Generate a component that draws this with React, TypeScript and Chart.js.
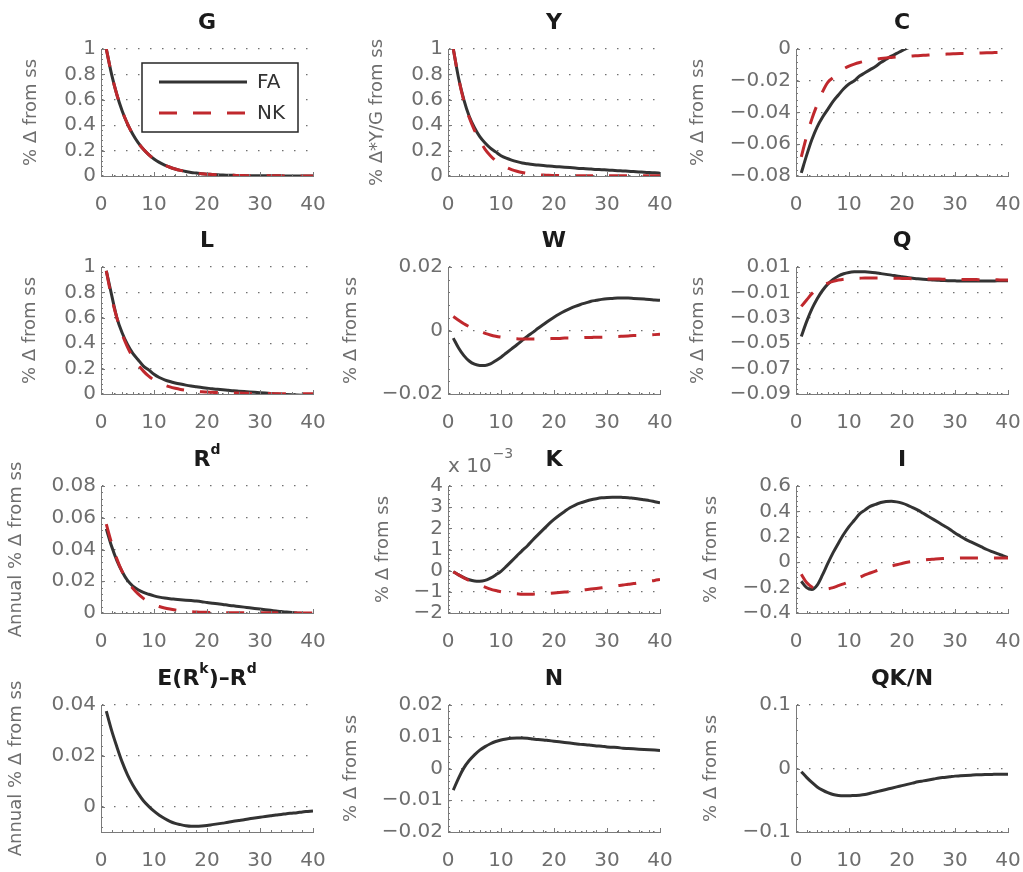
import React, { useEffect, useRef } from 'react';
import { Chart, registerables } from 'chart.js';

Chart.register(...registerables);

// ---------------- DATA ----------------
const PERIODS = [1, 2, 3, 4, 5, 6, 7, 8, 9, 10, 11, 12, 13, 14, 15, 16, 17, 18, 19, 20, 21, 22, 23, 24, 25, 26, 27, 28, 29, 30, 31, 32, 33, 34, 35, 36, 37, 38, 39, 40];
const X_TICKS = [0, 10, 20, 30, 40];

const G_FA = [1.0, 0.8, 0.64, 0.512, 0.41, 0.328, 0.262, 0.21, 0.168, 0.134, 0.107, 0.086, 0.069, 0.055, 0.044, 0.035, 0.028, 0.023, 0.018, 0.014, 0.012, 0.009, 0.007, 0.006, 0.005, 0.004, 0.003, 0.002, 0.002, 0.002, 0.001, 0.001, 0.001, 0.001, 0.0, 0.0, 0.0, 0.0, 0.0, 0.0];
const G_NK = [1.0, 0.8, 0.64, 0.512, 0.41, 0.328, 0.262, 0.21, 0.168, 0.134, 0.107, 0.086, 0.069, 0.055, 0.044, 0.035, 0.028, 0.023, 0.018, 0.014, 0.012, 0.009, 0.007, 0.006, 0.005, 0.004, 0.003, 0.002, 0.002, 0.002, 0.001, 0.001, 0.001, 0.001, 0.0, 0.0, 0.0, 0.0, 0.0, 0.0];

const Y_FA = [1.0, 0.77, 0.6, 0.47, 0.38, 0.31, 0.26, 0.22, 0.19, 0.16, 0.14, 0.125, 0.113, 0.103, 0.096, 0.09, 0.086, 0.082, 0.078, 0.075, 0.072, 0.069, 0.066, 0.063, 0.06, 0.058, 0.055, 0.052, 0.05, 0.047, 0.045, 0.042, 0.04, 0.037, 0.035, 0.032, 0.03, 0.027, 0.025, 0.022];
const Y_NK = [1.0, 0.77, 0.59, 0.46, 0.36, 0.28, 0.21, 0.16, 0.12, 0.09, 0.068, 0.05, 0.037, 0.027, 0.02, 0.014, 0.01, 0.007, 0.005, 0.004, 0.003, 0.002, 0.002, 0.001, 0.001, 0.001, 0.001, 0.001, 0.001, 0.001, 0.001, 0.001, 0.001, 0.001, 0.001, 0.001, 0.001, 0.001, 0.001, 0.001];

const C_FA = [-0.078, -0.067, -0.057, -0.049, -0.043, -0.038, -0.033, -0.029, -0.025, -0.022, -0.02, -0.017, -0.015, -0.013, -0.011, -0.0085, -0.0065, -0.0045, -0.0028, -0.001, 0.0005, 0.0018, 0.003, 0.004, 0.0048, 0.0055, 0.006, 0.0064, 0.0067, 0.0069, 0.007, 0.0071, 0.0071, 0.0071, 0.007, 0.0069, 0.0068, 0.0067, 0.0066, 0.0065];
const C_NK = [-0.068, -0.055, -0.044, -0.035, -0.027, -0.021, -0.018, -0.015, -0.0125, -0.0108, -0.0095, -0.0085, -0.0077, -0.007, -0.0065, -0.006, -0.0056, -0.0053, -0.005, -0.0048, -0.0046, -0.0044, -0.0042, -0.004, -0.0038, -0.0036, -0.0034, -0.0033, -0.0031, -0.003, -0.0029, -0.0028, -0.0027, -0.0026, -0.0025, -0.0024, -0.0023, -0.0022, -0.0021, -0.002];

const L_FA = [0.97, 0.78, 0.6, 0.48, 0.39, 0.32, 0.27, 0.22, 0.19, 0.155, 0.13, 0.112, 0.098, 0.087, 0.078, 0.07, 0.063, 0.057, 0.051, 0.046, 0.041, 0.037, 0.033, 0.029, 0.025, 0.022, 0.019, 0.016, 0.013, 0.01, 0.007, 0.004, 0.001, -0.002, -0.004, -0.006, -0.008, -0.01, -0.012, -0.013];
const L_NK = [0.97, 0.76, 0.6, 0.47, 0.37, 0.29, 0.23, 0.18, 0.14, 0.11, 0.088, 0.07, 0.056, 0.045, 0.036, 0.029, 0.024, 0.02, 0.017, 0.015, 0.013, 0.011, 0.01, 0.009, 0.008, 0.007, 0.006, 0.005, 0.004, 0.004, 0.003, 0.003, 0.002, 0.002, 0.002, 0.001, 0.001, 0.001, 0.001, 0.001];

const W_FA = [-0.0024, -0.0055, -0.0079, -0.0096, -0.0106, -0.011, -0.011, -0.0105, -0.0095, -0.0084, -0.0071, -0.0058, -0.0045, -0.0031, -0.0018, -0.0006, 0.0007, 0.0019, 0.0031, 0.0042, 0.0052, 0.0061, 0.0069, 0.0076, 0.0082, 0.0087, 0.0092, 0.0095, 0.0098, 0.01, 0.0101, 0.0102, 0.0102, 0.0102, 0.0101, 0.01, 0.0099, 0.0098, 0.0096, 0.0095];
const W_NK = [0.0044, 0.0032, 0.0021, 0.0012, 0.0004, -0.0003, -0.0009, -0.0014, -0.0018, -0.0021, -0.0023, -0.0025, -0.0026, -0.0027, -0.0027, -0.0027, -0.0027, -0.0026, -0.0026, -0.0025, -0.0025, -0.0024, -0.0024, -0.0023, -0.0023, -0.0022, -0.0022, -0.0021, -0.0021, -0.002, -0.0019, -0.0019, -0.0018, -0.0017, -0.0016, -0.0016, -0.0015, -0.0014, -0.0013, -0.0012];

const Q_FA = [-0.0447, -0.033, -0.023, -0.015, -0.0085, -0.0035, 0.0002, 0.0029, 0.0047, 0.0057, 0.0062, 0.0063, 0.0062, 0.0059, 0.0054, 0.0048, 0.0042, 0.0036, 0.0029, 0.0023, 0.0017, 0.0012, 0.0007, 0.0003, 0.0, -0.0003, -0.0005, -0.0007, -0.0008, -0.0009, -0.001, -0.001, -0.001, -0.001, -0.001, -0.001, -0.001, -0.0009, -0.0009, -0.0009];
const Q_NK = [-0.021, -0.016, -0.011, -0.0075, -0.0048, -0.0028, -0.0013, -0.0003, 0.0004, 0.0008, 0.0011, 0.0012, 0.0013, 0.0013, 0.0013, 0.0013, 0.0012, 0.0012, 0.0011, 0.001, 0.0009, 0.0008, 0.0008, 0.0007, 0.0006, 0.0005, 0.0005, 0.0004, 0.0003, 0.0003, 0.0002, 0.0002, 0.0001, 0.0001, 0.0, 0.0, -0.0001, -0.0001, -0.0002, -0.0002];

const RD_FA = [0.053, 0.042, 0.033, 0.026, 0.0205, 0.017, 0.0147, 0.013, 0.0118, 0.0108, 0.01, 0.0094, 0.009, 0.0087, 0.0084, 0.0081, 0.0078, 0.0075, 0.0071, 0.0066, 0.0062, 0.0058, 0.0054, 0.0049, 0.0045, 0.0041, 0.0037, 0.0033, 0.0029, 0.0025, 0.0021, 0.0017, 0.0013, 0.0009, 0.0006, 0.0003, 0.0, -0.0003, -0.0006, -0.0009];
const RD_NK = [0.056, 0.044, 0.034, 0.026, 0.02, 0.0155, 0.012, 0.0092, 0.007, 0.0053, 0.0041, 0.0032, 0.0025, 0.0019, 0.0014, 0.0011, 0.0008, 0.0006, 0.0005, 0.0004, 0.0003, 0.0003, 0.0002, 0.0002, 0.0002, 0.0001, 0.0001, 0.0001, 0.0001, 0.0001, 0.0001, 0.0001, 0.0001, 0.0, 0.0, 0.0, 0.0, 0.0, 0.0, 0.0];

// K values are in units of 10^-3
const K_FA = [-0.05, -0.2, -0.33, -0.43, -0.49, -0.5, -0.46, -0.35, -0.2, -0.03, 0.2, 0.45, 0.7, 0.95, 1.18, 1.45, 1.7, 1.95, 2.2, 2.42, 2.62, 2.8, 2.97, 3.1, 3.2, 3.28, 3.35, 3.4, 3.44, 3.46, 3.47, 3.47, 3.46, 3.45, 3.42, 3.39, 3.35, 3.31, 3.26, 3.21];
const K_NK = [-0.05, -0.2, -0.34, -0.47, -0.58, -0.68, -0.78, -0.87, -0.94, -1.0, -1.04, -1.07, -1.09, -1.11, -1.11, -1.11, -1.1, -1.09, -1.07, -1.05, -1.03, -1.01, -0.99, -0.96, -0.93, -0.9, -0.87, -0.84, -0.81, -0.78, -0.74, -0.71, -0.68, -0.64, -0.61, -0.57, -0.53, -0.49, -0.46, -0.42];

const I_FA = [-0.15, -0.2, -0.215, -0.18, -0.1, -0.01, 0.075, 0.15, 0.22, 0.28, 0.33, 0.38, 0.41, 0.44, 0.455, 0.47, 0.478, 0.48, 0.475, 0.465, 0.45, 0.43, 0.41, 0.385, 0.36, 0.335, 0.31, 0.285, 0.26, 0.23, 0.205, 0.18, 0.16, 0.14, 0.12, 0.1, 0.083, 0.067, 0.052, 0.037];
const I_NK = [-0.095, -0.16, -0.195, -0.21, -0.215, -0.21, -0.2, -0.185, -0.17, -0.155, -0.14, -0.12, -0.1, -0.085, -0.07, -0.055, -0.04, -0.03, -0.02, -0.01, 0.0, 0.006, 0.012, 0.017, 0.021, 0.024, 0.027, 0.029, 0.031, 0.032, 0.033, 0.034, 0.034, 0.034, 0.034, 0.034, 0.034, 0.034, 0.034, 0.034];

const E_FA = [0.0376, 0.03, 0.0235, 0.0175, 0.0125, 0.0085, 0.0052, 0.0023, 0.0001, -0.0018, -0.0034, -0.0047, -0.0058, -0.0066, -0.0071, -0.0075, -0.0077, -0.0077, -0.0076, -0.0074, -0.0071, -0.0068, -0.0065, -0.0062, -0.0058, -0.0055, -0.0052, -0.0048, -0.0045, -0.0042, -0.0039, -0.0036, -0.0033, -0.0031, -0.0028, -0.0026, -0.0024, -0.0021, -0.0019, -0.0017];

const N_FA = [-0.0068, -0.003, 0.0002, 0.0025, 0.0043, 0.0058, 0.0069, 0.0078, 0.0085, 0.009, 0.0093, 0.0095, 0.0096, 0.0096, 0.0095, 0.0093, 0.0091, 0.009, 0.0088, 0.0086, 0.0084, 0.0082, 0.008, 0.0078, 0.0076, 0.0075, 0.0073, 0.0071, 0.007, 0.0068, 0.0067, 0.0066, 0.0064, 0.0063, 0.0062, 0.0061, 0.006, 0.0059, 0.0058, 0.0057];

const QKN_FA = [-0.005, -0.014, -0.022, -0.029, -0.034, -0.038, -0.041, -0.0425, -0.043, -0.043, -0.0425, -0.042, -0.041, -0.039, -0.037, -0.035, -0.033, -0.031, -0.029, -0.027, -0.025, -0.023, -0.021, -0.0195, -0.018, -0.0165, -0.015, -0.014, -0.013, -0.012, -0.0115, -0.011, -0.0105, -0.01, -0.0097, -0.0095, -0.0093, -0.0091, -0.009, -0.0089];

const SERIES_NAMES = ['FA', 'NK'];

// ---------------- STYLE ----------------
const FONT = '"DejaVu Sans", "Liberation Sans", sans-serif';
const FA_COLOR = '#333333';
const NK_COLOR = '#c0282d';
const TEXT_GRAY = '#6e6e6e';
const AXIS_GRAY = '#7a7a7a';
const GRID_GRAY = '#707070';
const LINE_W = 3;
const NK_DASH = [18, 16];

const COL_LEFT = [101, 448, 796];
const ROW_TOP = [49, 267, 486, 705];
const Y_BOX = 112;
const PAD_TOP = 48;
const PAD_RIGHT = 14;
const X_BOX = 45;
const PLOT_W = 212;
const PLOT_H = 127;

type Part = { t: string; sup?: boolean };
type Panel = {
  title: Part[];
  yLabel: string;
  labelCenter: number;
  fa: number[];
  nk?: number[];
  yMin: number;
  yMax: number;
  yTicks: number[];
  col: number;
  row: number;
  exponent?: boolean;
  legend?: boolean;
};

const LBL = '% \u0394 from ss';
const LBL_A = 'Annual % \u0394 from ss';

const PANELS: Panel[] = [
  { title: [{ t: 'G' }], yLabel: LBL, labelCenter: 42, fa: G_FA, nk: G_NK, yMin: 0, yMax: 1, yTicks: [0, 0.2, 0.4, 0.6, 0.8, 1], col: 0, row: 0, legend: true },
  { title: [{ t: 'Y' }], yLabel: '% \u0394*Y/G from ss', labelCenter: 41.5, fa: Y_FA, nk: Y_NK, yMin: 0, yMax: 1, yTicks: [0, 0.2, 0.4, 0.6, 0.8, 1], col: 1, row: 0 },
  { title: [{ t: 'C' }], yLabel: LBL, labelCenter: 14, fa: C_FA, nk: C_NK, yMin: -0.08, yMax: 0, yTicks: [-0.08, -0.06, -0.04, -0.02, 0], col: 2, row: 0 },
  { title: [{ t: 'L' }], yLabel: LBL, labelCenter: 41.5, fa: L_FA, nk: L_NK, yMin: 0, yMax: 1, yTicks: [0, 0.2, 0.4, 0.6, 0.8, 1], col: 0, row: 1 },
  { title: [{ t: 'W' }], yLabel: LBL, labelCenter: 15.5, fa: W_FA, nk: W_NK, yMin: -0.02, yMax: 0.02, yTicks: [-0.02, 0, 0.02], col: 1, row: 1 },
  { title: [{ t: 'Q' }], yLabel: LBL, labelCenter: 14, fa: Q_FA, nk: Q_NK, yMin: -0.09, yMax: 0.01, yTicks: [-0.09, -0.07, -0.05, -0.03, -0.01, 0.01], col: 2, row: 1 },
  { title: [{ t: 'R' }, { t: 'd', sup: true }], yLabel: LBL_A, labelCenter: 27.5, fa: RD_FA, nk: RD_NK, yMin: 0, yMax: 0.08, yTicks: [0, 0.02, 0.04, 0.06, 0.08], col: 0, row: 2 },
  { title: [{ t: 'K' }], yLabel: LBL, labelCenter: 47.5, fa: K_FA, nk: K_NK, yMin: -2, yMax: 4, yTicks: [-2, -1, 0, 1, 2, 3, 4], col: 1, row: 2, exponent: true },
  { title: [{ t: 'I' }], yLabel: LBL, labelCenter: 27.5, fa: I_FA, nk: I_NK, yMin: -0.4, yMax: 0.6, yTicks: [-0.4, -0.2, 0, 0.2, 0.4, 0.6], col: 2, row: 2 },
  { title: [{ t: 'E(R' }, { t: 'k', sup: true }, { t: ')\u2013R' }, { t: 'd', sup: true }], yLabel: LBL_A, labelCenter: 27.5, fa: E_FA, yMin: -0.01, yMax: 0.04, yTicks: [0, 0.02, 0.04], col: 0, row: 3 },
  { title: [{ t: 'N' }], yLabel: LBL, labelCenter: 15.5, fa: N_FA, yMin: -0.02, yMax: 0.02, yTicks: [-0.02, -0.01, 0, 0.01, 0.02], col: 1, row: 3 },
  { title: [{ t: 'QK/N' }], yLabel: LBL, labelCenter: 27.5, fa: QKN_FA, yMin: -0.1, yMax: 0.1, yTicks: [-0.1, 0, 0.1], col: 2, row: 3 },
];

const fmt = (v: number) => String(parseFloat(Number(v).toFixed(5))).replace('-', '\u2212');

function makeDecor(p: Panel) {
  return {
    id: 'panelDecor',
    afterDraw(chart: any) {
      const { ctx, chartArea: ca, scales } = chart;
      const xs = scales.x;
      const ys = scales.y;
      ctx.save();
      // tick marks (major + minor), pointing inward
      ctx.strokeStyle = AXIS_GRAY;
      ctx.lineWidth = 1;
      ctx.beginPath();
      const xStep = X_TICKS[1] - X_TICKS[0];
      const xMinor = xStep / 5;
      for (let k = 0; X_TICKS[0] + k * xMinor <= xs.max + 1e-9; k++) {
        const v = X_TICKS[0] + k * xMinor;
        const px = Math.round(xs.getPixelForValue(v)) + 0.5;
        const len = k % 5 === 0 ? 4 : 2;
        ctx.moveTo(px, ca.bottom);
        ctx.lineTo(px, ca.bottom - len);
      }
      const yStep = p.yTicks[1] - p.yTicks[0];
      const yMinor = yStep / 5;
      for (let k = -10; k < 200; k++) {
        const v = p.yTicks[0] + k * yMinor;
        if (v < ys.min - 1e-9 || v > ys.max + 1e-9) continue;
        const py = Math.round(ys.getPixelForValue(v)) + 0.5;
        const len = ((k % 5) + 5) % 5 === 0 ? 4 : 2;
        ctx.moveTo(ca.left, py);
        ctx.lineTo(ca.left + len, py);
      }
      ctx.stroke();

      // title with optional superscripts
      const mainF = `bold 22px ${FONT}`;
      const supF = `bold 14px ${FONT}`;
      let total = 0;
      const widths = p.title.map((part) => {
        ctx.font = part.sup ? supF : mainF;
        const w = ctx.measureText(part.t).width;
        total += w;
        return w;
      });
      let x = (ca.left + ca.right) / 2 - total / 2;
      const base = ca.top - 20;
      ctx.fillStyle = '#1a1a1a';
      ctx.textAlign = 'left';
      ctx.textBaseline = 'alphabetic';
      p.title.forEach((part, i) => {
        ctx.font = part.sup ? supF : mainF;
        ctx.fillText(part.t, x, part.sup ? base - 12 : base);
        x += widths[i];
      });

      // exponent label (x 10^-3)
      if (p.exponent) {
        ctx.fillStyle = TEXT_GRAY;
        ctx.font = `20px ${FONT}`;
        const t1 = 'x 10';
        ctx.fillText(t1, ca.left, ca.top - 14);
        const w1 = ctx.measureText(t1).width;
        ctx.font = `14px ${FONT}`;
        ctx.fillText('\u22123', ca.left + w1 + 1, ca.top - 28);
      }

      // legend box
      if (p.legend) {
        const bx = ca.left + 41;
        const by = ca.top + 14;
        const bw = 156;
        const bh = 69;
        ctx.fillStyle = '#ffffff';
        ctx.fillRect(bx, by, bw, bh);
        ctx.strokeStyle = '#262626';
        ctx.lineWidth = 1.5;
        ctx.strokeRect(bx, by, bw, bh);
        const rows = [
          { name: SERIES_NAMES[0], color: FA_COLOR, dash: [] as number[], y: ca.top + 33 },
          { name: SERIES_NAMES[1], color: NK_COLOR, dash: NK_DASH, y: ca.top + 64 },
        ];
        rows.forEach((r) => {
          ctx.beginPath();
          ctx.setLineDash(r.dash);
          ctx.strokeStyle = r.color;
          ctx.lineWidth = LINE_W;
          ctx.moveTo(ca.left + 58, r.y);
          ctx.lineTo(ca.left + 146, r.y);
          ctx.stroke();
          ctx.setLineDash([]);
          ctx.fillStyle = '#333333';
          ctx.font = `20px ${FONT}`;
          ctx.textBaseline = 'middle';
          ctx.fillText(r.name, ca.left + 156, r.y + 1);
        });
      }
      ctx.restore();
    },
  };
}

function PanelChart({ p }: { p: Panel }) {
  const ref = useRef<HTMLCanvasElement>(null);
  useEffect(() => {
    if (!ref.current) return;
    const datasets: any[] = [
      {
        label: SERIES_NAMES[0],
        data: PERIODS.map((x, i) => ({ x, y: p.fa[i] })),
        borderColor: FA_COLOR,
        borderWidth: LINE_W,
        pointRadius: 0,
        cubicInterpolationMode: 'monotone',
        borderJoinStyle: 'round',
        order: 1,
      },
    ];
    if (p.nk) {
      datasets.push({
        label: SERIES_NAMES[1],
        data: PERIODS.map((x, i) => ({ x, y: (p.nk as number[])[i] })),
        borderColor: NK_COLOR,
        borderWidth: LINE_W,
        borderDash: NK_DASH,
        pointRadius: 0,
        cubicInterpolationMode: 'monotone',
        order: 0,
      });
    }
    const tickFont = { family: FONT, size: 20 };
    const chart = new Chart(ref.current, {
      type: 'line',
      data: { datasets },
      options: {
        responsive: false,
        animation: false,
        devicePixelRatio: 1,
        events: [],
        layout: { padding: { top: PAD_TOP, right: PAD_RIGHT, left: 0, bottom: 0 } },
        plugins: { legend: { display: false }, tooltip: { enabled: false }, title: { display: false } },
        scales: {
          x: {
            type: 'linear',
            min: X_TICKS[0],
            max: X_TICKS[X_TICKS.length - 1],
            afterBuildTicks: (s: any) => {
              s.ticks = X_TICKS.map((v) => ({ value: v }));
            },
            ticks: { font: tickFont, color: TEXT_GRAY, padding: 17, maxRotation: 0, autoSkip: false, callback: (v: any) => fmt(v) },
            grid: { display: false, drawTicks: false },
            border: { display: true, color: AXIS_GRAY, width: 1 },
            afterFit: (s: any) => {
              s.height = X_BOX;
              s.paddingLeft = 0;
              s.paddingRight = 0;
            },
          },
          y: {
            type: 'linear',
            min: p.yMin,
            max: p.yMax,
            afterBuildTicks: (s: any) => {
              s.ticks = p.yTicks.map((v) => ({ value: v }));
            },
            ticks: { font: tickFont, color: TEXT_GRAY, padding: 5, autoSkip: false, callback: (v: any) => fmt(v) },
            grid: { color: GRID_GRAY, lineWidth: 1.2, drawTicks: false },
            border: { display: true, color: AXIS_GRAY, width: 1, dash: [1.5, 10.5] },
            title: {
              display: true,
              text: p.yLabel,
              color: TEXT_GRAY,
              font: { family: FONT, size: 18 },
              padding: { top: p.labelCenter - 10.8, bottom: 0 },
            },
            afterFit: (s: any) => {
              s.width = Y_BOX;
              s.paddingTop = 0;
              s.paddingBottom = 0;
            },
          },
        },
      } as any,
      plugins: [makeDecor(p)],
    });
    return () => chart.destroy();
  }, [p]);

  const w = Y_BOX + PLOT_W + PAD_RIGHT;
  const h = PAD_TOP + PLOT_H + X_BOX;
  return (
    <canvas
      ref={ref}
      width={w}
      height={h}
      style={{
        position: 'absolute',
        left: COL_LEFT[p.col] - Y_BOX,
        top: ROW_TOP[p.row] - PAD_TOP,
        width: w,
        height: h,
      }}
    />
  );
}

export default function App() {
  return (
    <div
      style={{
        position: 'absolute',
        left: 0,
        top: 0,
        width: 1023,
        height: 872,
        overflow: 'hidden',
        background: '#ffffff',
      }}
    >
      {PANELS.map((p, i) => (
        <PanelChart key={i} p={p} />
      ))}
    </div>
  );
}
